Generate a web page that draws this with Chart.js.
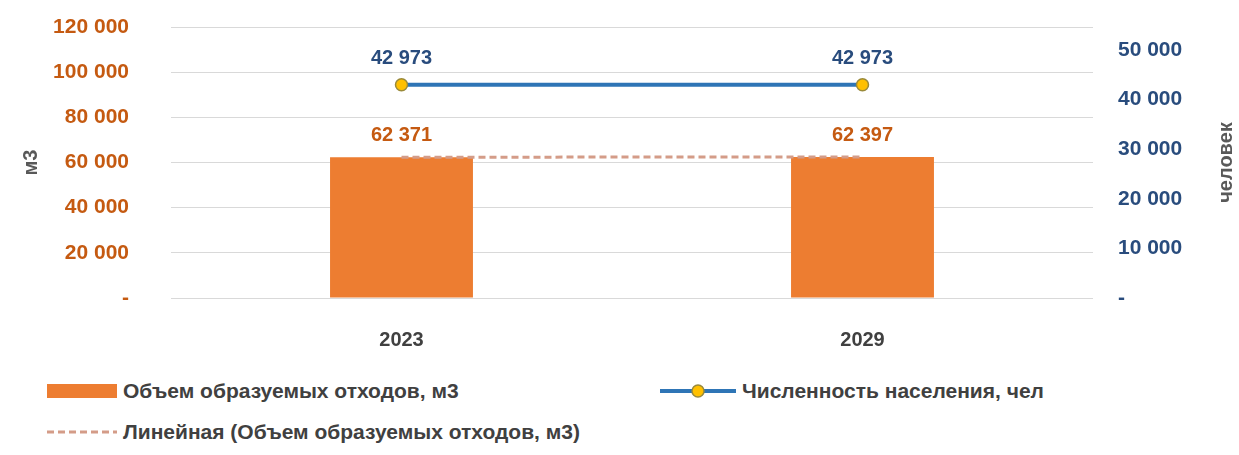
<!DOCTYPE html>
<html lang="ru">
<head>
  <meta charset="UTF-8">
  <title>Объем образуемых отходов</title>
  <script src="https://cdn.jsdelivr.net/npm/chart.js"></script>
  <style>
    body { margin: 0; background: #fff; font-family: "Liberation Sans", Arial, sans-serif; }
    #wrap { position: relative; width: 1239px; height: 455px; }
    #chart-box { position: absolute; left: 0; top: 0; width: 1239px; height: 350px; }
    .leg { position: absolute; display: flex; align-items: center; font-weight: bold; font-size: 21px; color: #404040; white-space: nowrap; }
    .leg svg { margin-right: 6px; }
  </style>
</head>
<body>
<div id="wrap">
  <div id="chart-box"><canvas id="wasteChart"></canvas></div>
  <div id="legend"></div>
</div>
<script>
  // data
  const years = ['2023', '2029'];
  const wasteM3 = [62371, 62397];
  const population = [42973, 42973];
  const leftTicks = [0, 20000, 40000, 60000, 80000, 100000, 120000];
  const rightTicks = [0, 10000, 20000, 30000, 40000, 50000];

  const orange = '#ED7D31';
  const orangeText = '#C55A11';
  const blueLine = '#2E75B6';
  const blueText = '#294C7D';
  const trendColor = '#D49C88';
  const grayText = '#404040';
  const clear = 'rgba(0,0,0,0)';

  function fmt(v) {
    if (v === 0) return '-';
    return String(v).replace(/\B(?=(\d{3})+(?!\d))/g, ' ');
  }

  // least squares trend over the bar series
  function linearTrend(vals) {
    const n = vals.length;
    let sx = 0, sy = 0, sxy = 0, sxx = 0;
    vals.forEach((y, i) => { sx += i; sy += y; sxy += i * y; sxx += i * i; });
    const b = (n * sxy - sx * sy) / (n * sxx - sx * sx);
    const a = (sy - b * sx) / n;
    return vals.map((_, i) => a + b * i);
  }
  const wasteTrend = linearTrend(wasteM3);

  const valueLabels = {
    id: 'valueLabels',
    afterDatasetsDraw(chart) {
      const ctx = chart.ctx;
      ctx.save();
      ctx.font = 'bold 20px "Liberation Sans", Arial, sans-serif';
      ctx.textAlign = 'center';
      ctx.textBaseline = 'middle';
      chart.data.datasets.forEach((ds, i) => {
        if (!ds.showValues) return;
        const meta = chart.getDatasetMeta(i);
        meta.data.forEach((el, j) => {
          ctx.fillStyle = ds.valueColor;
          ctx.fillText(fmt(ds.data[j]), el.x, el.y + ds.valueOffset);
        });
      });
      ctx.restore();
    }
  };

  const axisTitles = {
    id: 'axisTitles',
    afterDraw(chart) {
      const ctx = chart.ctx;
      const cy = (chart.chartArea.top + chart.chartArea.bottom) / 2;
      ctx.save();
      ctx.font = 'bold 20px "Liberation Sans", Arial, sans-serif';
      ctx.fillStyle = '#595959';
      ctx.textAlign = 'center';
      ctx.textBaseline = 'middle';
      [['м3', 31], ['человек', 1226]].forEach(([t, x]) => {
        ctx.save();
        ctx.translate(x, cy);
        ctx.rotate(-Math.PI / 2);
        ctx.fillText(t, 0, 0);
        ctx.restore();
      });
      ctx.restore();
    }
  };

  new Chart(document.getElementById('wasteChart'), {
    data: {
      labels: years,
      datasets: [
        {
          type: 'line',
          label: 'Численность населения, чел',
          data: population,
          yAxisID: 'yR',
          borderColor: blueLine,
          borderWidth: 4,
          pointRadius: 6,
          pointBackgroundColor: '#FFC000',
          pointBorderColor: '#9A8A3A',
          pointBorderWidth: 1.5,
          order: 0,
          showValues: true,
          valueColor: blueText,
          valueOffset: -26
        },
        {
          type: 'line',
          label: 'Линейная (Объем образуемых отходов, м3)',
          data: wasteTrend,
          yAxisID: 'yL',
          borderColor: trendColor,
          borderWidth: 3,
          borderDash: [7, 4],
          pointRadius: 0,
          order: 1
        },
        {
          type: 'bar',
          label: 'Объем образуемых отходов, м3',
          data: wasteM3,
          yAxisID: 'yL',
          backgroundColor: orange,
          barPercentage: 0.31,
          categoryPercentage: 1,
          order: 2,
          showValues: true,
          valueColor: orangeText,
          valueOffset: -22
        }
      ]
    },
    options: {
      responsive: true,
      maintainAspectRatio: false,
      animation: false,
      layout: { padding: { top: 27, left: 0, right: 0, bottom: 0 } },
      plugins: { legend: { display: false }, tooltip: { enabled: false } },
      scales: {
        x: {
          grid: { display: false },
          border: { display: false },
          ticks: { color: grayText, font: { family: 'Liberation Sans', size: 20, weight: 'bold' }, padding: 22 },
          afterFit(s) { s.height = 52; }
        },
        yL: {
          position: 'left',
          min: 0,
          max: 120000,
          afterBuildTicks(s) { s.ticks = leftTicks.map(v => ({ value: v })); },
          // invisible tick marks push the labels away from the plot
          grid: { color: '#D9D9D9', drawTicks: true, tickLength: 40, tickColor: clear },
          border: { display: false },
          ticks: {
            color: orangeText,
            font: { family: 'Liberation Sans', size: 21, weight: 'bold' },
            padding: 2,
            callback: v => fmt(v)
          },
          afterFit(s) { s.width = 171; }
        },
        yR: {
          position: 'right',
          min: 0,
          max: 54600,
          afterBuildTicks(s) { s.ticks = rightTicks.map(v => ({ value: v })); },
          grid: { display: true, drawOnChartArea: false, drawTicks: true, tickLength: 23, color: clear, tickColor: clear },
          border: { display: false },
          ticks: {
            color: blueText,
            font: { family: 'Liberation Sans', size: 21, weight: 'bold' },
            padding: 2,
            callback: v => fmt(v)
          },
          afterFit(s) { s.width = 146; }
        }
      }
    },
    plugins: [valueLabels, axisTitles]
  });

  // legend laid out like the original, built from the series names
  const legendItems = [
    { text: 'Объем образуемых отходов, м3', left: 47, top: 391,
      svg: `<svg width="70" height="14"><rect x="0" y="0" width="70" height="14" fill="${orange}"/></svg>` },
    { text: 'Численность населения, чел', left: 660, top: 391,
      svg: `<svg width="76" height="16"><line x1="0" y1="8" x2="76" y2="8" stroke="${blueLine}" stroke-width="4"/><circle cx="38" cy="8" r="6" fill="#FFC000" stroke="#9A8A3A" stroke-width="1.5"/></svg>` },
    { text: 'Линейная (Объем образуемых отходов, м3)', left: 47, top: 432,
      svg: `<svg width="70" height="6"><line x1="0" y1="3" x2="70" y2="3" stroke="${trendColor}" stroke-width="3" stroke-dasharray="7 4"/></svg>` }
  ];
  const legendEl = document.getElementById('legend');
  legendItems.forEach(it => {
    const d = document.createElement('div');
    d.className = 'leg';
    d.style.left = it.left + 'px';
    d.style.top = (it.top - 13) + 'px';
    d.style.height = '26px';
    d.innerHTML = it.svg + '<span>' + it.text + '</span>';
    legendEl.appendChild(d);
  });
</script>
</body>
</html>
